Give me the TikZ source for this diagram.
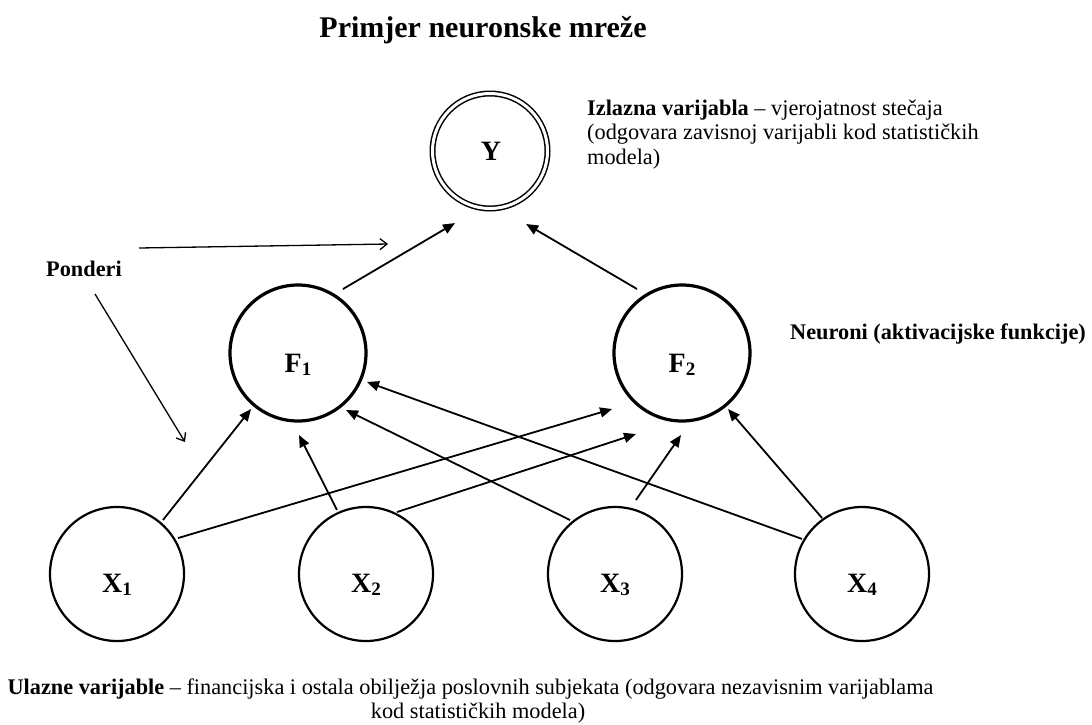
\documentclass[tikz,border=0pt]{standalone}
\usepackage{fontspec}
\setmainfont{Liberation Serif}
\usetikzlibrary{arrows.meta,calc}
\newcommand{\mysub}[1]{\raisebox{-3.5pt}{\fontsize{19}{19}\selectfont #1}}
\begin{document}
\begin{tikzpicture}[x=1pt,y=-1pt,
  inp/.style={circle,draw,line width=2.2pt,minimum size=134pt,inner sep=0pt,outer sep=0pt},
  hid/.style={circle,draw,line width=3.2pt,minimum size=136pt,inner sep=0pt,outer sep=0pt},
  outn/.style={circle,draw,line width=1.5pt,double,double distance=3pt,minimum size=115pt,inner sep=0pt,outer sep=0pt},
  lab/.style={font=\fontsize{28}{28}\selectfont\bfseries,anchor=base,inner sep=0pt},
  txt/.style={font=\fontsize{22.3}{24.5}\selectfont,anchor=base west,inner sep=0pt},
  ctxt/.style={font=\fontsize{22.3}{24.5}\selectfont,anchor=base,inner sep=0pt},
  arr/.style={-{Triangle[length=12pt,width=10pt]},line width=1.8pt},
  parr/.style={-{Straight Barb[length=7pt,width=11pt]},line width=1.3pt}]
\useasboundingbox (0,0) rectangle (1092,724);

% title
\node[font=\fontsize{30}{30}\selectfont\bfseries,anchor=base,inner sep=0pt] (title) at (483,37) {Primjer neuronske mreže};

% nodes
\node[outn] (y) at (490,151) {};
\node[hid] (f1) at (298,353) {};
\node[hid] (f2) at (682,353) {};
\node[inp] (x1) at (117,574) {};
\node[inp] (x2) at (366,574) {};
\node[inp] (x3) at (615,574) {};
\node[inp] (x4) at (862,574) {};

% labels
\node[lab] (yl) at (491,160) {Y};
\node[lab] (f1l) at (298,372) {F\mysub{1}};
\node[lab] (f2l) at (682,372) {F\mysub{2}};
\node[lab] (x1l) at (117,592) {X\mysub{1}};
\node[lab] (x2l) at (366,592) {X\mysub{2}};
\node[lab] (x3l) at (615,592) {X\mysub{3}};
\node[lab] (x4l) at (862,592) {X\mysub{4}};

% connectors
\draw[arr] ($(f1)+(54.9:78.2pt)$) -- ($(y)+(-115.9:80.1pt)$);
\draw[arr] ($(f2)+(125.1:78.2pt)$) -- ($(y)+(-63.7:81.4pt)$);
\draw[arr] ($(x1)+(49.6:70.9pt)$) -- ($(f1)+(-130:73.1pt)$);
\draw[arr] ($(x2)+(114.4:70.3pt)$) -- ($(f1)+(-89.3:82pt)$);
\draw[arr] ($(x3)+(129.8:70.3pt)$) -- ($(f1)+(-49.9:74.5pt)$);
\draw[arr] ($(x4)+(149.7:69.5pt)$) -- ($(f1)+(-22.8:74.8pt)$);
\draw[arr] ($(x1)+(30.5:70.8pt)$) -- ($(f2)+(-141.3:89.6pt)$);
\draw[arr] ($(x2)+(63.4:69.3pt)$) -- ($(f2)+(-119.6:93.2pt)$);
\draw[arr] ($(x3)+(74.2:76.9pt)$) -- ($(f2)+(-90.7:82pt)$);
\draw[arr] ($(x4)+(125.5:68.8pt)$) -- ($(f2)+(-50.6:72.5pt)$);

% Ponderi
\node[txt,font=\fontsize{22.3}{24.5}\selectfont\bfseries] (pond) at (46,276) {Ponderi};
\coordinate (ph0) at (139,248);
\coordinate (ph1) at (388,244);
\coordinate (pd0) at (95,294);
\coordinate (pd1) at (185,442);
\draw[parr] (ph0) -- (ph1);
\draw[parr] (pd0) -- (pd1);

% side texts
\node[txt] (iz1) at (587,115) {\textbf{Izlazna varijabla} – vjerojatnost stečaja};
\node[txt] (iz2) at (587,139.5) {(odgovara zavisnoj varijabli kod statističkih};
\node[txt] (iz3) at (587,164) {modela)};
\node[txt] (neu) at (790,339) {\textbf{Neuroni (aktivacijske funkcije)}};

% bottom text
\node[ctxt] (ul1) at (470.5,694) {\textbf{Ulazne varijable} – financijska i ostala obilježja poslovnih subjekata (odgovara nezavisnim varijablama};
\node[ctxt] (ul2) at (478,718) {kod statističkih modela)};
\end{tikzpicture}
\end{document}
